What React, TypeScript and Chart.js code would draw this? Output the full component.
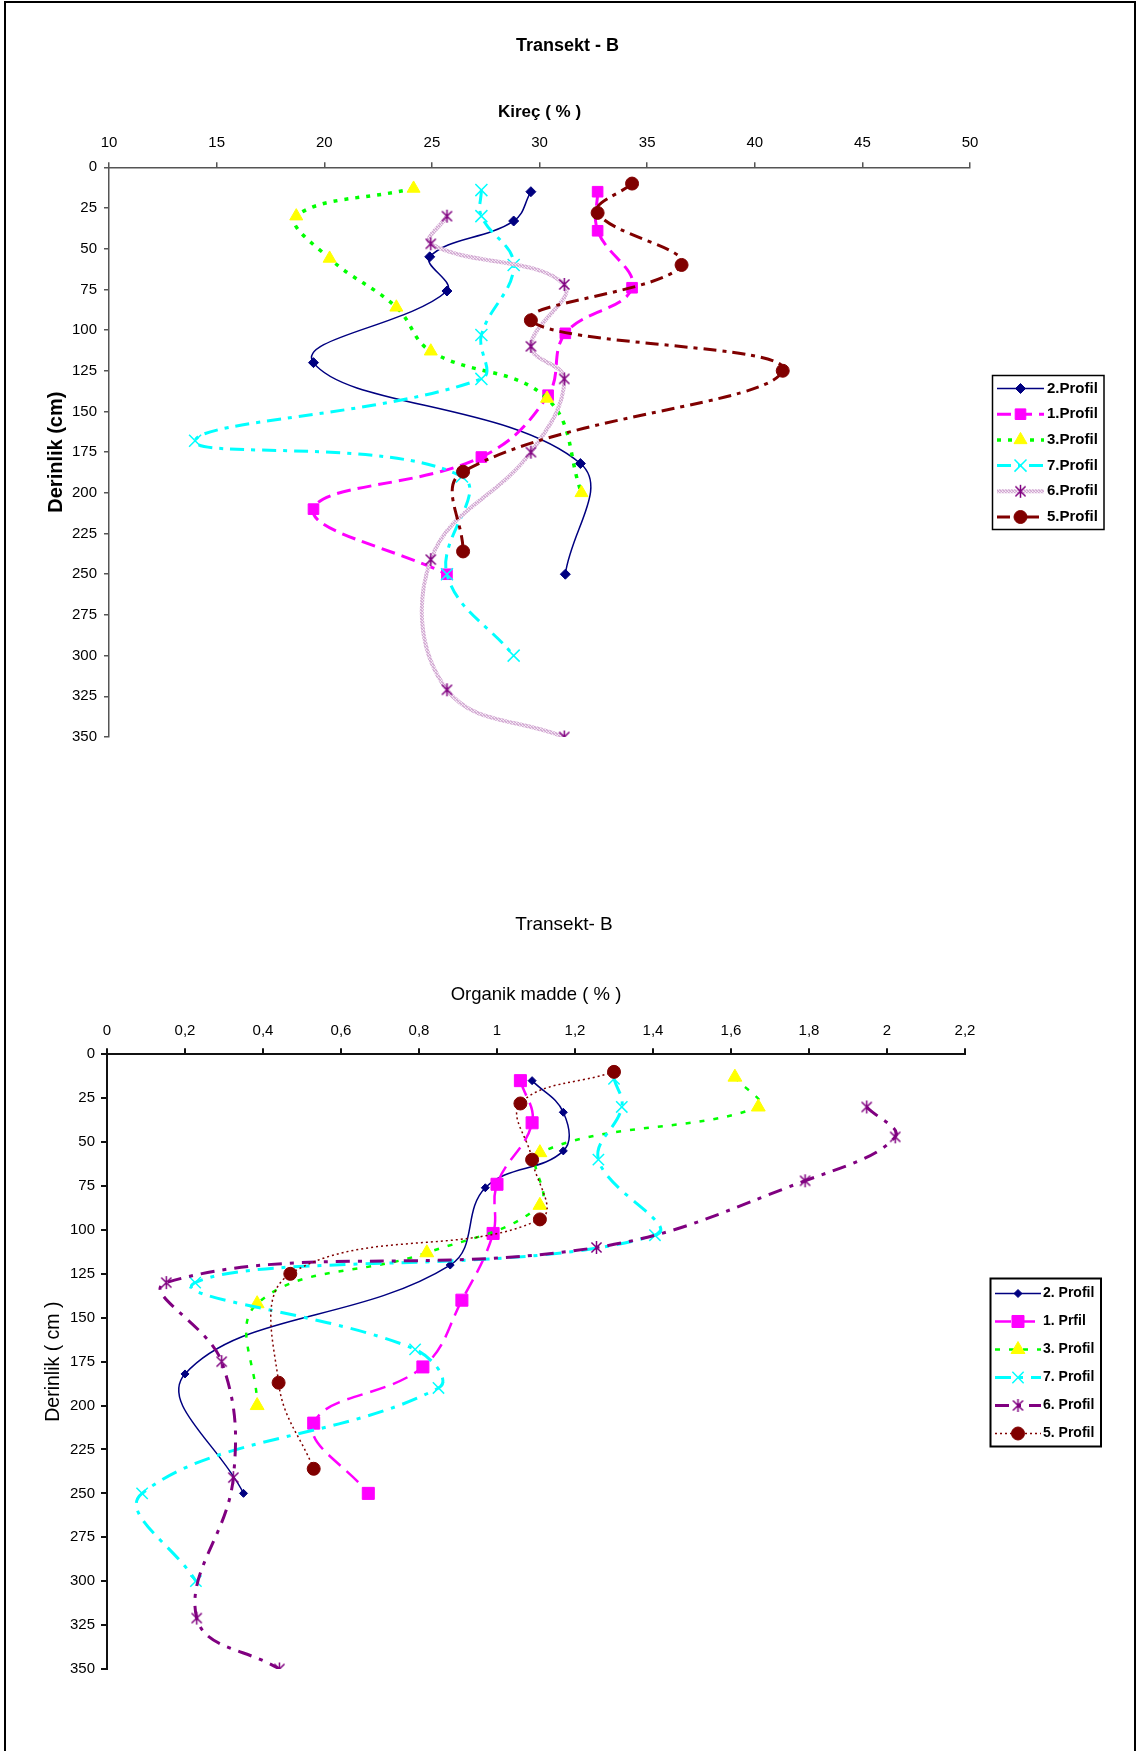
import React, { useEffect, useRef } from "react";
import { Chart, registerables } from "chart.js";
import { drawPoint } from "chart.js/helpers";

Chart.register(...registerables);

// Sampling depths (cm) for each soil profile, top to bottom
const depth2 = [15, 33, 55, 76, 120, 182, 250];
const depth1 = [15, 39, 74, 102, 140, 178, 210, 250];
const depth3 = [13, 30, 56, 86, 113, 142, 200];
const depth7 = [14, 30, 60, 103, 130, 168, 190, 250, 300];
const depth6 = [30, 47, 72, 110, 130, 175, 241, 321, 350];
const depth5 = [10, 28, 60, 94, 125, 187, 236];

// Kireç (%) per profile
const kirec2 = [29.6, 28.8, 24.9, 25.7, 19.5, 31.9, 31.2];
const kirec1 = [32.7, 32.7, 34.3, 31.2, 30.4, 27.3, 19.5, 25.7];
const kirec3 = [24.15, 18.7, 20.25, 23.35, 24.95, 30.35, 31.95];
const kirec7 = [27.3, 27.3, 28.8, 27.3, 27.3, 14.0, 26.4, 25.7, 28.8];
const kirec6 = [25.7, 24.95, 31.15, 29.6, 31.15, 29.6, 24.95, 25.7, 31.15];
const kirec5 = [34.3, 32.7, 36.6, 29.6, 41.3, 26.45, 26.45];

// Organik madde (%) per profile
const om2 = [1.09, 1.17, 1.17, 0.97, 0.88, 0.2, 0.35];
const om1 = [1.06, 1.09, 1.0, 0.99, 0.91, 0.81, 0.53, 0.67];
const om3 = [1.61, 1.67, 1.11, 1.11, 0.82, 0.385, 0.385];
const om7 = [1.3, 1.32, 1.26, 1.405, 0.226, 0.79, 0.85, 0.09, 0.228];
const om6 = [1.948, 2.021, 1.79, 1.255, 0.152, 0.294, 0.324, 0.23, 0.442];
const om5 = [1.3, 1.06, 1.09, 1.11, 0.47, 0.44, 0.53];

const depths = [depth2, depth1, depth3, depth7, depth6, depth5];
const kirecValues = [kirec2, kirec1, kirec3, kirec7, kirec6, kirec5];
const omValues = [om2, om1, om3, om7, om6, om5];

const kirecLabels = ["2.Profil", "1.Profil", "3.Profil", "7.Profil", "6.Profil", "5.Profil"];
const omLabels = ["2. Profil", "1. Prfil", "3. Profil", "7. Profil", "6. Profil", "5. Profil"];

// Axis ranges
const DEPTH_MAX = 350;
const DEPTH_STEP = 25;
const KIREC_MIN = 10;
const KIREC_MAX = 50;
const KIREC_STEP = 5;
const OM_MIN = 0;
const OM_MAX = 2.2;
const OM_STEP = 0.2;

const SANS = '"Liberation Sans", Arial, Helvetica, sans-serif';

type Style = {
  color: string;
  width: number;
  dash: number[];
  marker: string;
  radius: number;
  markerColor: string;
  markerBorder: number;
};

const kirecStyles: Style[] = [
  { color: "#000080", width: 1.5, dash: [], marker: "rectRot", radius: 5, markerColor: "#000080", markerBorder: 1 },
  { color: "#FF00FF", width: 3, dash: [14, 7], marker: "rect", radius: 7.5, markerColor: "#FF00FF", markerBorder: 1 },
  { color: "#00FF00", width: 3.5, dash: [4, 7], marker: "triangle", radius: 7.5, markerColor: "#FFFF00", markerBorder: 1 },
  { color: "#00FFFF", width: 3, dash: [14, 7, 4, 7], marker: "crossRot", radius: 8.5, markerColor: "#00FFFF", markerBorder: 1.5 },
  { color: "lilac", width: 4, dash: [], marker: "asterisk", radius: 6, markerColor: "#800080", markerBorder: 1.5 },
  { color: "#800000", width: 3, dash: [13, 6, 4, 6], marker: "circle", radius: 6.5, markerColor: "#800000", markerBorder: 1 },
];

const omStyles: Style[] = [
  { color: "#000080", width: 1.5, dash: [], marker: "rectRot", radius: 4, markerColor: "#000080", markerBorder: 1 },
  { color: "#FF00FF", width: 2.5, dash: [16, 8], marker: "rect", radius: 8.5, markerColor: "#FF00FF", markerBorder: 1 },
  { color: "#00FF00", width: 2.5, dash: [5, 9], marker: "triangle", radius: 8, markerColor: "#FFFF00", markerBorder: 1 },
  { color: "#00FFFF", width: 3, dash: [16, 8, 4, 8], marker: "crossRot", radius: 8, markerColor: "#00FFFF", markerBorder: 1.5 },
  { color: "#800080", width: 3, dash: [14, 8, 4, 8], marker: "asterisk", radius: 6, markerColor: "#800080", markerBorder: 1.5 },
  { color: "#800000", width: 1.5, dash: [2, 3], marker: "circle", radius: 6.5, markerColor: "#800000", markerBorder: 1 },
];

function makeAsterisk(color: string, size: number, lw: number): HTMLCanvasElement {
  const c = document.createElement("canvas");
  c.width = size;
  c.height = size;
  const g = c.getContext("2d")!;
  g.strokeStyle = color;
  g.lineWidth = lw;
  const m = size / 2;
  const r = size / 2 - 1;
  const d = r * 0.78;
  g.beginPath();
  g.moveTo(m - d, m - d);
  g.lineTo(m + d, m + d);
  g.moveTo(m + d, m - d);
  g.lineTo(m - d, m + d);
  g.moveTo(m, m - r);
  g.lineTo(m, m + r);
  g.stroke();
  return c;
}

// Speckled light-lilac stroke used for 6.Profil
function makeLilac(ctx: CanvasRenderingContext2D): CanvasPattern | string {
  const c = document.createElement("canvas");
  c.width = 3;
  c.height = 3;
  const g = c.getContext("2d")!;
  g.fillStyle = "#E2C6E2";
  g.fillRect(0, 0, 3, 3);
  g.fillStyle = "#D0A6D0";
  g.fillRect(0, 0, 1, 1);
  g.fillRect(1, 1, 1, 1);
  g.fillRect(2, 2, 1, 1);
  g.fillStyle = "#F6ECF6";
  g.fillRect(2, 0, 1, 1);
  g.fillRect(0, 2, 1, 1);
  return ctx.createPattern(c, "repeat") || "#DDBDDD";
}

// Boxed legend drawn at the right of the plot, from the datasets' own styling
const boxLegend = {
  id: "boxLegend",
  afterDraw(chart: any, _args: any, opts: any) {
    const { ctx } = chart;
    ctx.save();
    ctx.lineWidth = opts.frameWidth;
    ctx.strokeStyle = "#000";
    ctx.setLineDash([]);
    ctx.strokeRect(opts.x, opts.y, opts.w, opts.h);
    chart.data.datasets.forEach((ds: any, i: number) => {
      const cy = opts.firstY + i * opts.rowH;
      ctx.save();
      ctx.strokeStyle = ds.borderColor;
      ctx.lineWidth = ds.borderWidth;
      ctx.setLineDash(ds.borderDash || []);
      ctx.beginPath();
      ctx.moveTo(opts.lineX0, cy);
      ctx.lineTo(opts.lineX1, cy);
      ctx.stroke();
      ctx.restore();
      ctx.save();
      ctx.setLineDash([]);
      ctx.fillStyle = ds.pointBackgroundColor;
      ctx.strokeStyle = ds.pointBorderColor;
      ctx.lineWidth = ds.pointBorderWidth;
      drawPoint(
        ctx,
        { pointStyle: ds.pointStyle, radius: ds.pointRadius, rotation: 0, borderWidth: ds.pointBorderWidth } as any,
        (opts.lineX0 + opts.lineX1) / 2,
        cy
      );
      ctx.restore();
      ctx.fillStyle = "#000";
      ctx.font = opts.font;
      ctx.textBaseline = "middle";
      ctx.textAlign = "left";
      ctx.fillText(ds.label, opts.textX, cy);
    });
    ctx.restore();
  },
};

type Spec = {
  values: number[][];
  labels: string[];
  styles: Style[];
  xMin: number;
  xMax: number;
  xStep: number;
  xFormat: (v: number) => string;
  title: string;
  titleFont: any;
  titlePadTop: number;
  xTitle: string;
  xTitleFont: any;
  xTitlePad: number;
  xHeight: number;
  xTickFont: any;
  xTickPad: number;
  yTitle: string;
  yTitleFont: any;
  yTitlePad: number;
  yWidth: number;
  yTickFont: any;
  yTickPad: number;
  tickLen: number;
  axisColor: string;
  axisWidth: number;
  padRight: number;
  spacerWidth: number;
  padBottom: number;
  legend: any;
};

function buildConfig(spec: Spec, ctx: CanvasRenderingContext2D): any {
  const datasets = spec.styles.map((s, i) => {
    const marker: any =
      s.marker === "asterisk" ? makeAsterisk(s.markerColor, 15, s.markerBorder) : s.marker;
    const color: any = s.color === "lilac" ? makeLilac(ctx) : s.color;
    return {
      label: spec.labels[i],
      data: depths[i].map((d, k) => ({ x: spec.values[i][k], y: d })),
      showLine: true,
      fill: false,
      tension: 0.4,
      borderColor: color,
      borderWidth: s.width,
      borderDash: s.dash,
      pointStyle: marker,
      pointRadius: s.radius,
      pointBackgroundColor: s.markerColor,
      pointBorderColor: s.markerColor,
      pointBorderWidth: s.markerBorder,
      order: spec.styles.length - i,
    };
  });

  const axisGrid = {
    display: true,
    drawOnChartArea: false,
    drawTicks: true,
    tickLength: spec.tickLen,
    color: spec.axisColor,
    lineWidth: spec.axisWidth,
  };
  const axisBorder = { display: true, color: spec.axisColor, width: spec.axisWidth };

  return {
    type: "scatter",
    data: { datasets },
    plugins: [boxLegend],
    options: {
      responsive: false,
      maintainAspectRatio: false,
      animation: false,
      events: [],
      layout: { padding: { left: 0, top: 0, right: spec.padRight, bottom: spec.padBottom } },
      plugins: {
        legend: { display: false },
        tooltip: { enabled: false },
        title: {
          display: true,
          text: spec.title,
          color: "#000",
          font: spec.titleFont,
          padding: { top: spec.titlePadTop, bottom: 0 },
        },
        boxLegend: spec.legend,
      },
      scales: {
        x: {
          type: "linear",
          position: "top",
          min: spec.xMin,
          max: spec.xMax,
          ticks: {
            stepSize: spec.xStep,
            color: "#000",
            font: spec.xTickFont,
            padding: spec.xTickPad,
            maxRotation: 0,
            autoSkip: false,
            callback: (v: any) => spec.xFormat(Number(v)),
          },
          grid: axisGrid,
          border: axisBorder,
          title: {
            display: true,
            text: spec.xTitle,
            color: "#000",
            font: spec.xTitleFont,
            padding: { top: spec.xTitlePad, bottom: 0 },
          },
          afterFit: (s: any) => {
            s.height = spec.xHeight;
          },
        },
        y: {
          type: "linear",
          position: "left",
          reverse: true,
          min: 0,
          max: DEPTH_MAX,
          ticks: {
            stepSize: DEPTH_STEP,
            color: "#000",
            font: spec.yTickFont,
            padding: spec.yTickPad,
            autoSkip: false,
          },
          grid: axisGrid,
          border: axisBorder,
          title: {
            display: true,
            text: spec.yTitle,
            color: "#000",
            font: spec.yTitleFont,
            padding: { top: spec.yTitlePad, bottom: 0 },
          },
          afterFit: (s: any) => {
            s.width = spec.yWidth;
          },
        },
        spacer: {
          type: "linear",
          position: "right",
          display: true,
          ticks: { display: false },
          grid: { display: false, drawTicks: false },
          border: { display: false },
          afterFit: (s: any) => {
            s.width = spec.spacerWidth;
          },
        },
      },
    },
  };
}

const kirecSpec: Spec = {
  values: kirecValues,
  labels: kirecLabels,
  styles: kirecStyles,
  xMin: KIREC_MIN,
  xMax: KIREC_MAX,
  xStep: KIREC_STEP,
  xFormat: (v) => String(v),
  title: "Transekt - B",
  titleFont: { family: SANS, size: 18, weight: "bold" },
  titlePadTop: 35,
  xTitle: "Kireç ( % )",
  xTitleFont: { family: SANS, size: 17, weight: "bold" },
  xTitlePad: 45.8,
  xHeight: 110.7,
  xTickFont: { family: SANS, size: 15 },
  xTickPad: 10.4,
  yTitle: "Derinlik (cm)",
  yTitleFont: { family: SANS, size: 20, weight: "bold" },
  yTitlePad: 44,
  yWidth: 109,
  yTickFont: { family: SANS, size: 15 },
  yTickPad: 7,
  tickLen: 5,
  axisColor: "#555",
  axisWidth: 1.5,
  padRight: 9,
  spacerWidth: 165,
  padBottom: 63,
  legend: {
    x: 992.5,
    y: 375.5,
    w: 111.5,
    h: 154,
    frameWidth: 1.5,
    firstY: 388.5,
    rowH: 25.7,
    lineX0: 997,
    lineX1: 1044,
    textX: 1047,
    font: `bold 15px ${SANS}`,
  },
};

const omSpec: Spec = {
  values: omValues,
  labels: omLabels,
  styles: omStyles,
  xMin: OM_MIN,
  xMax: OM_MAX,
  xStep: OM_STEP,
  xFormat: (v) => String(Math.round(v * 10) / 10).replace(".", ","),
  title: "Transekt- B",
  titleFont: { family: SANS, size: 19, weight: "normal" },
  titlePadTop: 43.3,
  xTitle: "Organik madde ( % )",
  xTitleFont: { family: SANS, size: 18.5, weight: "normal" },
  xTitlePad: 47.8,
  xHeight: 118.2,
  xTickFont: { family: SANS, size: 15 },
  xTickPad: 8.3,
  yTitle: "Derinlik ( cm )",
  yTitleFont: { family: SANS, size: 19.5, weight: "normal" },
  yTitlePad: 42.2,
  yWidth: 107,
  yTickFont: { family: SANS, size: 15 },
  yTickPad: 6,
  tickLen: 6,
  axisColor: "#111",
  axisWidth: 2,
  padRight: 16,
  spacerWidth: 163,
  padBottom: 82,
  legend: {
    x: 990.5,
    y: 408.5,
    w: 110.5,
    h: 168,
    frameWidth: 2,
    firstY: 423.5,
    rowH: 28,
    lineX0: 995,
    lineX1: 1041,
    textX: 1043,
    font: `bold 14px ${SANS}`,
  },
};

function ProfileChart({ spec, top, width, height }: { spec: Spec; top: number; width: number; height: number }) {
  const ref = useRef<HTMLCanvasElement>(null);
  useEffect(() => {
    const canvas = ref.current!;
    const ctx = canvas.getContext("2d")!;
    const chart = new Chart(canvas, buildConfig(spec, ctx));
    return () => chart.destroy();
  }, [spec]);
  return (
    <canvas
      ref={ref}
      width={width}
      height={height}
      style={{ position: "absolute", left: 0, top, width, height, display: "block" }}
    />
  );
}

export default function App() {
  return (
    <div
      style={{
        position: "absolute",
        left: 0,
        top: 0,
        width: 1144,
        height: 1751,
        overflow: "hidden",
        background: "#fff",
      }}
    >
      <div
        style={{
          position: "absolute",
          left: 4,
          top: 1,
          width: 1132,
          height: 1800,
          boxSizing: "border-box",
          borderLeft: "2.5px solid #000",
          borderTop: "2.5px solid #000",
          borderRight: "2.5px solid #000",
        }}
      />
      <ProfileChart spec={kirecSpec} top={0} width={1144} height={800} />
      <ProfileChart spec={omSpec} top={870} width={1144} height={881} />
    </div>
  );
}
